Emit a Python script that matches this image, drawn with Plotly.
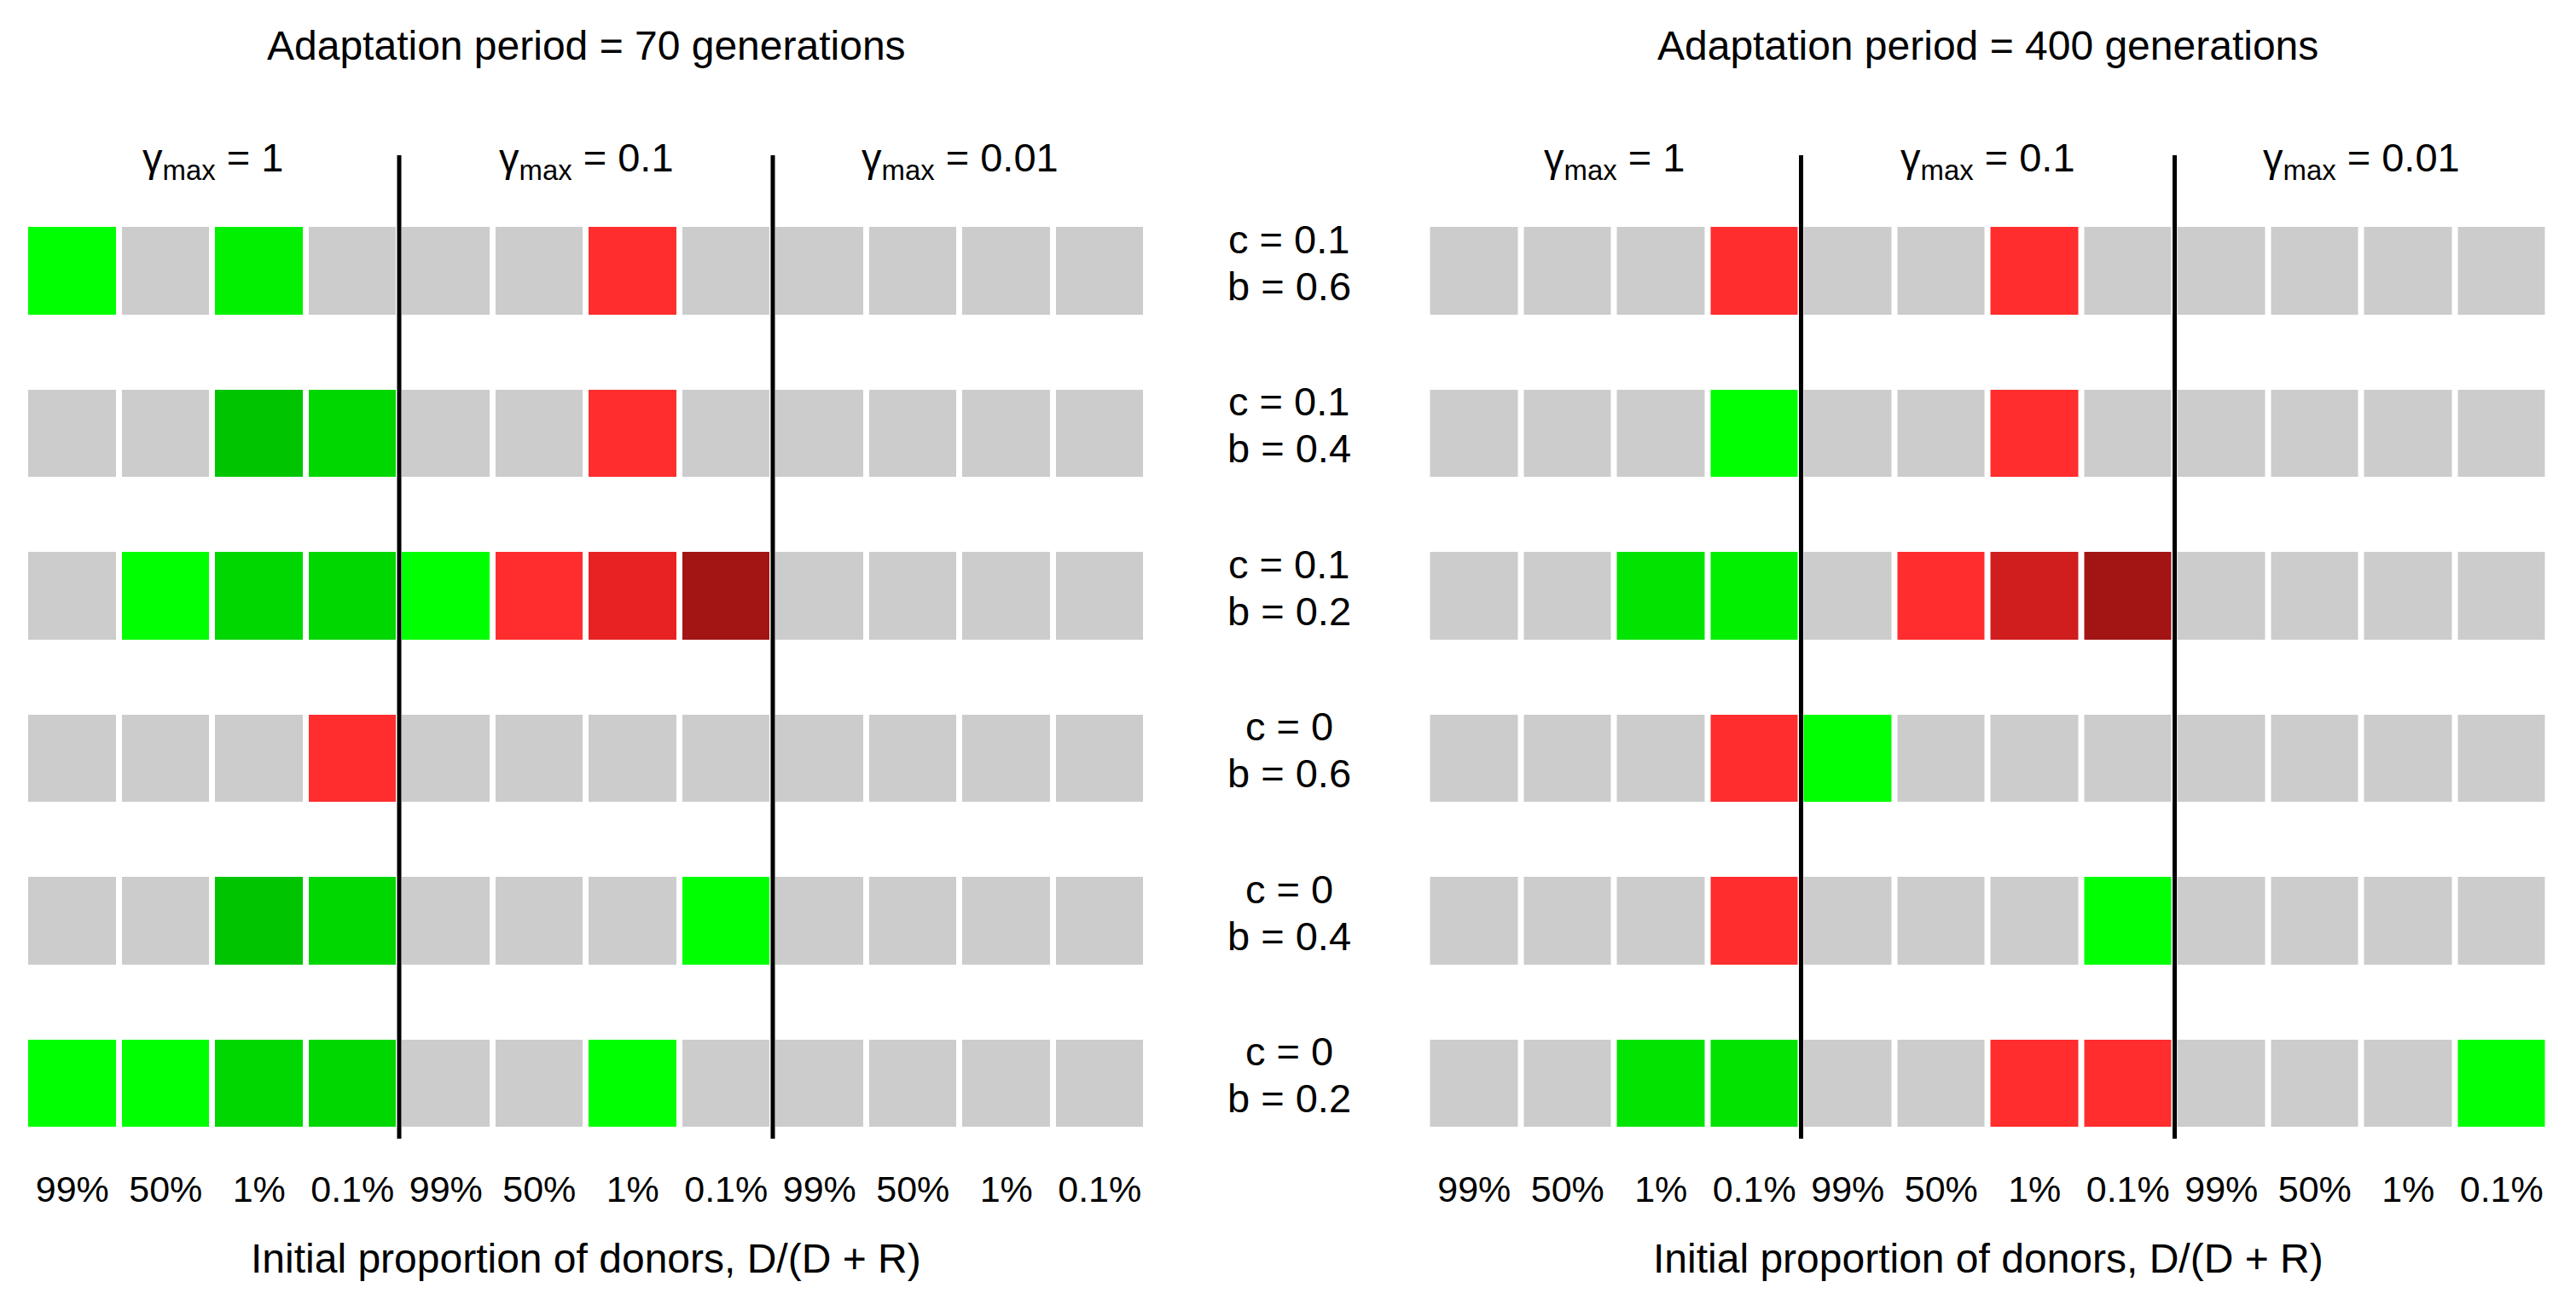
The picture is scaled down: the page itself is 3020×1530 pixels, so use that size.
import plotly.graph_objects as go

# ---------------- data ----------------
proportions = ["99%", "50%", "1%", "0.1%"]
gamma_max = ["1", "0.1", "0.01"]
c_values = ["0.1", "0.1", "0.1", "0", "0", "0"]
b_values = ["0.6", "0.4", "0.2", "0.6", "0.4", "0.2"]
periods = ["70", "400"]

# outcome level per cell: 0 = no change, 1..5 = increasingly strong benefit (green),
# -1..-4 = increasingly strong harm (red)
levels_70 = [
    [1, 0, 2, 0, 0, 0, -1, 0, 0, 0, 0, 0],
    [0, 0, 5, 4, 0, 0, -1, 0, 0, 0, 0, 0],
    [0, 1, 4, 4, 1, -1, -2, -4, 0, 0, 0, 0],
    [0, 0, 0, -1, 0, 0, 0, 0, 0, 0, 0, 0],
    [0, 0, 5, 4, 0, 0, 0, 1, 0, 0, 0, 0],
    [1, 1, 4, 4, 0, 0, 1, 0, 0, 0, 0, 0],
]
levels_400 = [
    [0, 0, 0, -1, 0, 0, -1, 0, 0, 0, 0, 0],
    [0, 0, 0, 1, 0, 0, -1, 0, 0, 0, 0, 0],
    [0, 0, 3, 2, 0, -1, -3, -4, 0, 0, 0, 0],
    [0, 0, 0, -1, 1, 0, 0, 0, 0, 0, 0, 0],
    [0, 0, 0, -1, 0, 0, 0, 1, 0, 0, 0, 0],
    [0, 0, 3, 3, 0, 0, -1, -1, 0, 0, 0, 1],
]

level_values = [-4, -3, -2, -1, 0, 1, 2, 3, 4, 5]
level_colors = ["#A31414", "#D01E1E", "#E82222", "#FF2D2D", "#CCCCCC",
                "#00FF00", "#00F000", "#00E400", "#00D600", "#00C400"]

# ---------------- build ----------------
FONT = "Liberation Sans, Arial, sans-serif"
W, H = 3020, 1530
OFF = 8  # page body margin


def px_x(p):
    return (p - OFF) / W


def px_y(p):
    return 1 - (p - OFF) / H


zmin, zmax = level_values[0] - 0.5, level_values[-1] + 0.5
n = len(level_values)
colorscale = []
for i, col in enumerate(level_colors):
    colorscale.append([i / n, col])
    colorscale.append([(i + 1) / n, col])

ncols = len(proportions) * len(gamma_max)
nrows = len(c_values)
xs = list(range(1, ncols + 1))
ys = list(range(1, nrows + 1))
ticktext = proportions * len(gamma_max)

x_domains = [[px_x(30), px_x(1344)], [px_x(1673.5), px_x(2987.5)]]
y_domain = [px_y(1365), px_y(222)]

fig = go.Figure()
for k, lv in enumerate([levels_70, levels_400]):
    xa = "x" if k == 0 else "x2"
    ya = "y" if k == 0 else "y2"
    fig.add_trace(go.Heatmap(
        z=lv, x=xs, y=ys, colorscale=colorscale, zmin=zmin, zmax=zmax,
        xgap=7, ygap=88, showscale=False, hoverinfo="skip",
        xaxis=xa, yaxis=ya))

axis_common = dict(showgrid=False, zeroline=False, showline=False, ticks="")
fig.update_layout(
    width=W, height=H,
    margin=dict(l=0, r=0, t=0, b=0),
    paper_bgcolor="white", plot_bgcolor="white",
    font=dict(family=FONT, color="black"),
    showlegend=False,
    xaxis=dict(domain=x_domains[0], range=[0.5, ncols + 0.5], tickvals=xs,
               ticktext=ticktext, tickfont=dict(size=43), ticklabelstandoff=0,
               anchor="y", **axis_common),
    xaxis2=dict(domain=x_domains[1], range=[0.5, ncols + 0.5], tickvals=xs,
                ticktext=ticktext, tickfont=dict(size=43), ticklabelstandoff=0,
                anchor="y2", **axis_common),
    yaxis=dict(domain=y_domain, range=[nrows + 0.5, 0.5], showticklabels=False,
               anchor="x", **axis_common),
    yaxis2=dict(domain=y_domain, range=[nrows + 0.5, 0.5], showticklabels=False,
                anchor="x2", **axis_common),
)

annotations = []
shapes = []
for k in range(2):
    xa = "x" if k == 0 else "x2"
    cx = (x_domains[k][0] + x_domains[k][1]) / 2
    annotations.append(dict(text=f"Adaptation period = {periods[k]} generations",
                            x=cx, y=px_y(53.5), xref="paper", yref="paper",
                            showarrow=False, font=dict(size=48),
                            xanchor="center", yanchor="middle"))
    annotations.append(dict(text="Initial proportion of donors, D/(D + R)",
                            x=cx, y=px_y(1475), xref="paper", yref="paper",
                            showarrow=False, font=dict(size=48),
                            xanchor="center", yanchor="middle"))
    for g, gv in enumerate(gamma_max):
        gx = g * len(proportions) + (len(proportions) + 1) / 2
        annotations.append(dict(text=f"γ<sub>max</sub> = {gv}",
                                x=gx, y=px_y(188), xref=xa, yref="paper",
                                showarrow=False, font=dict(size=47),
                                xanchor="center", yanchor="middle"))
    for g in range(1, len(gamma_max)):
        xb = g * len(proportions) + 0.5
        shapes.append(dict(type="line", xref=xa, yref="paper",
                           x0=xb, x1=xb, y0=px_y(1335), y1=px_y(182),
                           line=dict(color="black", width=5), layer="above"))

for r in range(nrows):
    annotations.append(dict(text=f"c = {c_values[r]}", x=px_x(1511), y=ys[r],
                            xref="paper", yref="y", yshift=37, showarrow=False,
                            font=dict(size=47), xanchor="center", yanchor="middle"))
    annotations.append(dict(text=f"b = {b_values[r]}", x=px_x(1511), y=ys[r],
                            xref="paper", yref="y", yshift=-18, showarrow=False,
                            font=dict(size=47), xanchor="center", yanchor="middle"))

fig.update_layout(annotations=annotations, shapes=shapes)
fig.write_html("out.html")
